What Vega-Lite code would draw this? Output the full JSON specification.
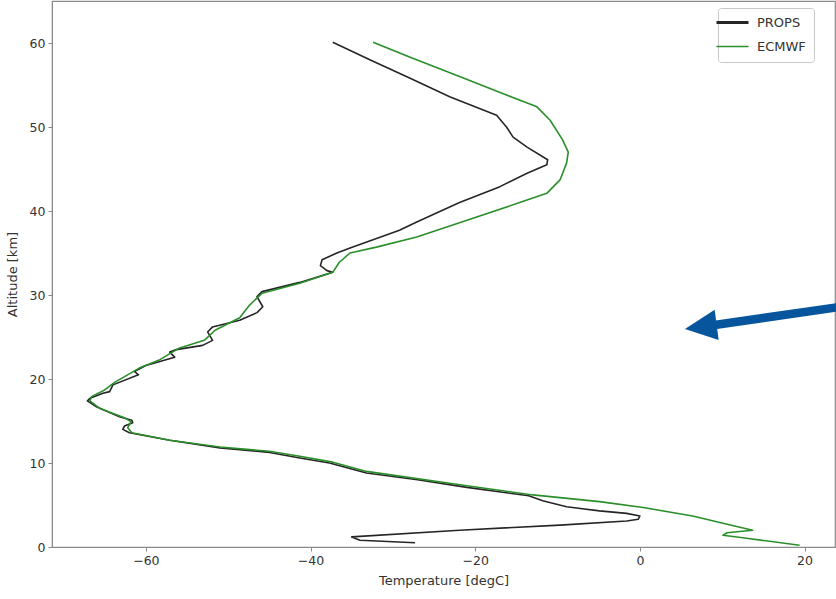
{
  "$schema": "https://vega.github.io/schema/vega-lite/v6.json",
  "width": 783,
  "height": 546,
  "autosize": {"type": "none"},
  "padding": {"left": 52, "top": 1, "right": 1, "bottom": 52},
  "background": "white",
  "config": {
    "font": "DejaVu Sans",
    "view": {"stroke": "#8a8a8a", "strokeWidth": 1.2},
    "axis": {"grid": false, "domainColor": "#8a8a8a", "tickColor": "#8a8a8a", "labelColor": "#333", "titleColor": "#333", "labelFontSize": 12.5, "titleFontSize": 13, "titleFontWeight": "normal", "tickSize": 4, "labelPadding": 3}
  },
  "datasets": {
    "curves": [
      {"s":"PROPS","i":1,"T":-37.3,"alt":60.1},{"s":"PROPS","i":2,"T":-32.8,"alt":58.0},{"s":"PROPS","i":3,"T":-27.9,"alt":55.8},{"s":"PROPS","i":4,"T":-23.1,"alt":53.6},{"s":"PROPS","i":5,"T":-17.4,"alt":51.4},{"s":"PROPS","i":6,"T":-16.2,"alt":50.0},{"s":"PROPS","i":7,"T":-15.4,"alt":48.8},{"s":"PROPS","i":8,"T":-13.7,"alt":47.6},{"s":"PROPS","i":9,"T":-11.2,"alt":46.1},{"s":"PROPS","i":10,"T":-11.3,"alt":45.5},
      {"s":"PROPS","i":11,"T":-13.7,"alt":44.5},{"s":"PROPS","i":12,"T":-17.0,"alt":42.9},{"s":"PROPS","i":13,"T":-21.9,"alt":41.0},{"s":"PROPS","i":14,"T":-27.1,"alt":38.7},{"s":"PROPS","i":15,"T":-29.2,"alt":37.7},{"s":"PROPS","i":16,"T":-35.2,"alt":35.6},{"s":"PROPS","i":17,"T":-36.8,"alt":35.0},{"s":"PROPS","i":18,"T":-38.6,"alt":34.2},{"s":"PROPS","i":19,"T":-38.8,"alt":33.5},{"s":"PROPS","i":20,"T":-38.0,"alt":32.9},
      {"s":"PROPS","i":21,"T":-37.3,"alt":32.7},{"s":"PROPS","i":22,"T":-41.3,"alt":31.5},{"s":"PROPS","i":23,"T":-45.9,"alt":30.4},{"s":"PROPS","i":24,"T":-46.5,"alt":29.8},{"s":"PROPS","i":25,"T":-45.8,"alt":28.6},{"s":"PROPS","i":26,"T":-46.5,"alt":27.9},{"s":"PROPS","i":27,"T":-48.6,"alt":27.0},{"s":"PROPS","i":28,"T":-51.9,"alt":26.2},{"s":"PROPS","i":29,"T":-52.5,"alt":25.6},{"s":"PROPS","i":30,"T":-51.9,"alt":24.6},
      {"s":"PROPS","i":31,"T":-53.1,"alt":24.0},{"s":"PROPS","i":32,"T":-56.3,"alt":23.5},{"s":"PROPS","i":33,"T":-57.1,"alt":23.2},{"s":"PROPS","i":34,"T":-56.5,"alt":22.6},{"s":"PROPS","i":35,"T":-60.0,"alt":21.6},{"s":"PROPS","i":36,"T":-61.4,"alt":20.9},{"s":"PROPS","i":37,"T":-60.9,"alt":20.5},{"s":"PROPS","i":38,"T":-64.0,"alt":19.3},{"s":"PROPS","i":39,"T":-64.4,"alt":18.5},{"s":"PROPS","i":40,"T":-65.2,"alt":18.3},
      {"s":"PROPS","i":41,"T":-66.8,"alt":17.7},{"s":"PROPS","i":42,"T":-67.1,"alt":17.4},{"s":"PROPS","i":43,"T":-66.0,"alt":16.7},{"s":"PROPS","i":44,"T":-63.2,"alt":15.5},{"s":"PROPS","i":45,"T":-61.7,"alt":15.1},{"s":"PROPS","i":46,"T":-61.6,"alt":14.8},{"s":"PROPS","i":47,"T":-62.6,"alt":14.4},{"s":"PROPS","i":48,"T":-62.8,"alt":14.0},{"s":"PROPS","i":49,"T":-62.0,"alt":13.6},{"s":"PROPS","i":50,"T":-57.1,"alt":12.7},
      {"s":"PROPS","i":51,"T":-51.0,"alt":11.8},{"s":"PROPS","i":52,"T":-45.3,"alt":11.3},{"s":"PROPS","i":53,"T":-41.3,"alt":10.6},{"s":"PROPS","i":54,"T":-37.7,"alt":10.0},{"s":"PROPS","i":55,"T":-33.2,"alt":8.8},{"s":"PROPS","i":56,"T":-27.0,"alt":8.0},{"s":"PROPS","i":57,"T":-21.0,"alt":7.1},{"s":"PROPS","i":58,"T":-13.5,"alt":6.1},{"s":"PROPS","i":59,"T":-11.8,"alt":5.5},{"s":"PROPS","i":60,"T":-8.9,"alt":4.8},
      {"s":"PROPS","i":61,"T":-4.9,"alt":4.3},{"s":"PROPS","i":62,"T":-1.6,"alt":4.0},{"s":"PROPS","i":63,"T":0.0,"alt":3.7},{"s":"PROPS","i":64,"T":-0.2,"alt":3.3},{"s":"PROPS","i":65,"T":-1.6,"alt":3.1},{"s":"PROPS","i":66,"T":-9.7,"alt":2.6},{"s":"PROPS","i":67,"T":-21.9,"alt":2.0},{"s":"PROPS","i":68,"T":-35.0,"alt":1.2},{"s":"PROPS","i":69,"T":-34.0,"alt":0.8},{"s":"PROPS","i":70,"T":-27.3,"alt":0.5},
      {"s":"ECMWF","i":1,"T":-32.4,"alt":60.1},{"s":"ECMWF","i":2,"T":-27.9,"alt":58.3},{"s":"ECMWF","i":3,"T":-21.9,"alt":56.0},{"s":"ECMWF","i":4,"T":-16.2,"alt":53.8},{"s":"ECMWF","i":5,"T":-12.5,"alt":52.4},{"s":"ECMWF","i":6,"T":-10.9,"alt":50.8},{"s":"ECMWF","i":7,"T":-9.4,"alt":48.5},{"s":"ECMWF","i":8,"T":-8.7,"alt":47.0},{"s":"ECMWF","i":9,"T":-8.9,"alt":45.7},{"s":"ECMWF","i":10,"T":-9.7,"alt":43.7},
      {"s":"ECMWF","i":11,"T":-11.3,"alt":42.1},{"s":"ECMWF","i":12,"T":-14.6,"alt":41.0},{"s":"ECMWF","i":13,"T":-21.0,"alt":38.9},{"s":"ECMWF","i":14,"T":-27.1,"alt":36.9},{"s":"ECMWF","i":15,"T":-32.0,"alt":35.7},{"s":"ECMWF","i":16,"T":-35.2,"alt":35.0},{"s":"ECMWF","i":17,"T":-36.5,"alt":33.9},{"s":"ECMWF","i":18,"T":-37.3,"alt":32.7},{"s":"ECMWF","i":19,"T":-41.3,"alt":31.4},{"s":"ECMWF","i":20,"T":-45.9,"alt":30.2},
      {"s":"ECMWF","i":21,"T":-47.4,"alt":28.8},{"s":"ECMWF","i":22,"T":-48.6,"alt":27.3},{"s":"ECMWF","i":23,"T":-51.6,"alt":25.8},{"s":"ECMWF","i":24,"T":-52.9,"alt":24.6},{"s":"ECMWF","i":25,"T":-55.9,"alt":23.7},{"s":"ECMWF","i":26,"T":-58.3,"alt":22.3},{"s":"ECMWF","i":27,"T":-60.8,"alt":21.3},{"s":"ECMWF","i":28,"T":-63.8,"alt":19.6},{"s":"ECMWF","i":29,"T":-65.0,"alt":18.7},{"s":"ECMWF","i":30,"T":-66.6,"alt":17.9},
      {"s":"ECMWF","i":31,"T":-66.8,"alt":17.4},{"s":"ECMWF","i":32,"T":-65.6,"alt":16.5},{"s":"ECMWF","i":33,"T":-62.6,"alt":15.4},{"s":"ECMWF","i":34,"T":-61.8,"alt":14.9},{"s":"ECMWF","i":35,"T":-62.2,"alt":14.2},{"s":"ECMWF","i":36,"T":-61.7,"alt":13.6},{"s":"ECMWF","i":37,"T":-57.1,"alt":12.7},{"s":"ECMWF","i":38,"T":-51.0,"alt":11.9},{"s":"ECMWF","i":39,"T":-45.0,"alt":11.4},{"s":"ECMWF","i":40,"T":-41.3,"alt":10.8},
      {"s":"ECMWF","i":41,"T":-37.3,"alt":10.1},{"s":"ECMWF","i":42,"T":-33.2,"alt":9.0},{"s":"ECMWF","i":43,"T":-21.0,"alt":7.3},{"s":"ECMWF","i":44,"T":-13.0,"alt":6.2},{"s":"ECMWF","i":45,"T":-4.9,"alt":5.4},{"s":"ECMWF","i":46,"T":0.4,"alt":4.7},{"s":"ECMWF","i":47,"T":6.4,"alt":3.7},{"s":"ECMWF","i":48,"T":10.6,"alt":2.7},{"s":"ECMWF","i":49,"T":13.7,"alt":2.0},{"s":"ECMWF","i":50,"T":10.6,"alt":1.7},
      {"s":"ECMWF","i":51,"T":10.1,"alt":1.4},{"s":"ECMWF","i":52,"T":12.5,"alt":1.1},{"s":"ECMWF","i":53,"T":19.4,"alt":0.2}
    ],
    "arrow": [
      {"T": 7.4, "alt": 26.2, "T2": 24.5, "alt2": 28.6}
    ]
  },
  "layer": [
    {
      "data": {"name": "curves"},
      "mark": {"type": "line", "strokeWidth": 1.6, "strokeJoin": "round", "interpolate": "linear"},
      "encoding": {
        "x": {"field": "T", "type": "quantitative", "scale": {"domain": [-71.4, 23.7], "nice": false, "zero": false}, "axis": {"values": [-60, -40, -20, 0, 20], "title": "Temperature [degC]", "titlePadding": 8}},
        "y": {"field": "alt", "type": "quantitative", "scale": {"domain": [0, 65], "nice": false, "zero": false}, "axis": {"values": [0, 10, 20, 30, 40, 50, 60], "title": "Altitude [km]", "titlePadding": 10}},
        "color": {
          "field": "s", "type": "nominal",
          "scale": {"domain": ["PROPS", "ECMWF"], "range": ["#262626", "#2a8f2a"]},
          "legend": {
            "title": null, "orient": "none", "legendX": 666, "legendY": 7,
            "symbolType": "stroke", "symbolSize": 1024, "labelFontSize": 13, "labelColor": "#333",
            "labelOffset": 18, "rowPadding": 10, "padding": 8,
            "fillColor": "white", "strokeColor": "#c8c8c8", "cornerRadius": 3,
            "encode": {"symbols": {"update": {"strokeWidth": {"signal": "datum.value === 'PROPS' ? 3 : 1.5"}}}}
          }
        },
        "order": {"field": "i", "type": "quantitative"}
      }
    },
    {
      "data": {"name": "arrow"},
      "mark": {"type": "rule", "color": "#07569d", "strokeWidth": 8.5, "strokeCap": "butt", "clip": false},
      "encoding": {
        "x": {"field": "T", "type": "quantitative"},
        "y": {"field": "alt", "type": "quantitative"},
        "x2": {"field": "T2"},
        "y2": {"field": "alt2"}
      }
    },
    {
      "data": {"name": "arrow"},
      "mark": {"type": "point", "shape": "M-1,0L1,-0.95L1,0.95Z", "filled": true, "color": "#07569d", "opacity": 1, "size": 1024, "angle": 352.5, "clip": false},
      "encoding": {
        "x": {"field": "T", "type": "quantitative"},
        "y": {"field": "alt", "type": "quantitative"}
      }
    }
  ]
}
